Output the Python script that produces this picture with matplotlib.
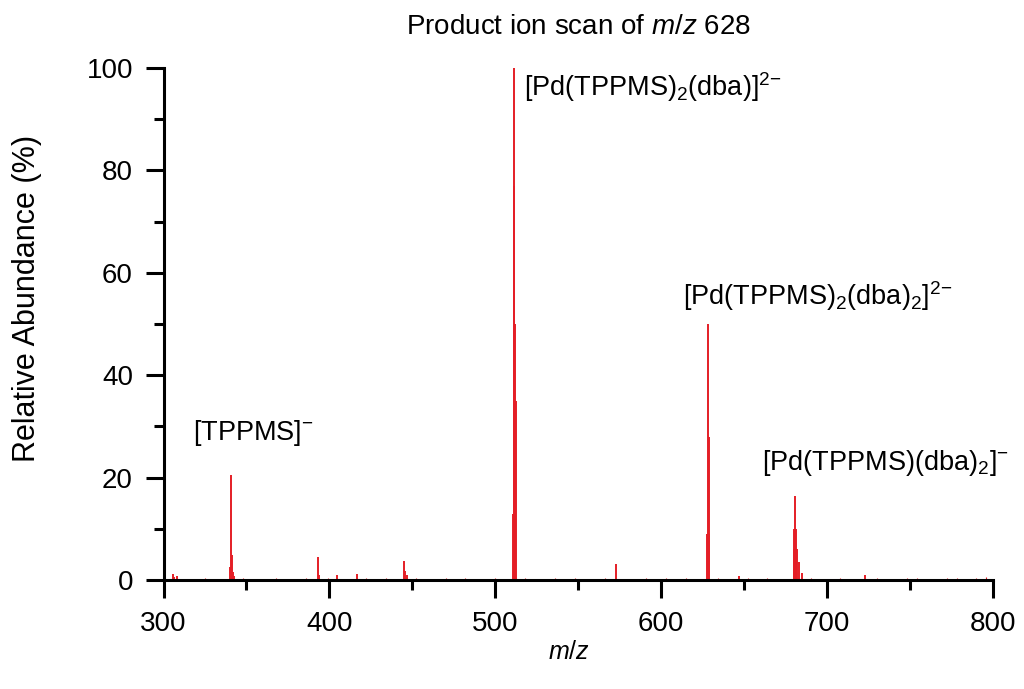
import matplotlib
matplotlib.use("Agg")
import matplotlib.pyplot as plt
from matplotlib.ticker import MultipleLocator

plt.rcParams['font.family'] = ['Liberation Sans', 'DejaVu Sans']
plt.rcParams['mathtext.fontset'] = 'custom'
plt.rcParams['mathtext.rm'] = 'Liberation Sans'
plt.rcParams['mathtext.it'] = 'Liberation Sans:italic'

# main peaks (m/z, relative abundance %)
peak_mz = [305.7, 306.5, 308.0,
           340.2, 340.7, 341.2, 341.7, 342.2,
           393.0, 393.7, 404.5, 416.6,
           444.9, 445.8, 446.5,
           510.5, 511.0, 511.5, 512.0, 512.5,
           572.6, 627.5, 628.0, 628.5, 629.0,
           646.6, 679.8, 680.3, 680.8, 681.3, 681.8, 682.8, 685.0,
           722.6]
peak_int = [1.2, 0.6, 0.8,
            2.5, 20.5, 5.0, 1.5, 0.8,
            4.5, 1.0, 1.0, 1.2,
            3.8, 1.8, 1.0,
            13.0, 100.0, 77.0, 50.0, 35.0,
            3.1, 9.0, 50.0, 28.0, 9.0,
            0.8, 6.0, 10.0, 16.5, 10.0, 6.0, 3.6, 1.4,
            1.1]

# baseline noise peaks
noise_mz = [312, 318, 325, 331, 336, 348, 355, 362, 368, 374, 380, 386, 399,
            410, 422, 428, 434, 439, 452, 458, 464, 470, 476, 482, 488, 494,
            500, 518, 524, 530, 536, 542, 548, 554, 560, 566, 579, 585, 591,
            597, 603, 609, 615, 621, 634, 640, 652, 658, 664, 670, 690, 696,
            702, 708, 714, 730, 736, 742, 748, 754, 760, 766, 772, 778, 784,
            790, 796]
noise_int = [0.3, 0.2, 0.4, 0.3, 0.2, 0.5, 0.3, 0.2, 0.4, 0.3, 0.2, 0.4, 0.5,
             0.3, 0.4, 0.2, 0.5, 0.3, 0.4, 0.2, 0.3, 0.5, 0.2, 0.4, 0.3, 0.2,
             0.4, 0.5, 0.3, 0.2, 0.4, 0.3, 0.5, 0.2, 0.3, 0.4, 0.3, 0.2, 0.4,
             0.3, 0.5, 0.2, 0.4, 0.3, 0.5, 0.3, 0.4, 0.2, 0.5, 0.3, 0.4, 0.3,
             0.2, 0.5, 0.3, 0.4, 0.2, 0.3, 0.5, 0.4, 0.3, 0.2, 0.4, 0.5, 0.3,
             0.4, 0.6]

labels = [r'[TPPMS]$^{-}$',
          r'[Pd(TPPMS)$_2$(dba)]$^{2{-}}$',
          r'[Pd(TPPMS)$_2$(dba)$_2$]$^{2{-}}$',
          r'[Pd(TPPMS)(dba)$_2$]$^{-}$']
label_x = [318, 517, 613, 660.5]
label_y = [27.3, 94.5, 53.7, 21.5]

red = '#e41e26'

fig = plt.figure(figsize=(10.24, 6.89), dpi=100)
ax = fig.add_axes([0.1597, 0.158, 0.8101, 0.7433])

ax.vlines(noise_mz, 0, noise_int, color=red, lw=0.8)
ax.vlines(peak_mz, 0, peak_int, color=red, lw=1.4)

for t, x, y in zip(labels, label_x, label_y):
    ax.text(x, y, t, fontsize=19.5, ha='left', va='baseline')

ax.set_xlim(300, 800)
ax.set_ylim(0, 100)
ax.xaxis.set_major_locator(MultipleLocator(100))
ax.xaxis.set_minor_locator(MultipleLocator(50))
ax.yaxis.set_major_locator(MultipleLocator(20))
ax.yaxis.set_minor_locator(MultipleLocator(10))

for s in ['top', 'right']:
    ax.spines[s].set_visible(False)
for s in ['bottom', 'left']:
    ax.spines[s].set_linewidth(2.2)

ax.tick_params(which='major', direction='out', length=13, width=2.2,
               labelsize=20, pad=9)
ax.tick_params(which='minor', direction='out', length=7, width=2.2)

# axis titles placed in figure coords
fig.text(569 / 1024, 1 - 652 / 689, r'$m/z$', fontsize=18,
         ha='center', va='center')
fig.text(27 / 1024, 1 - 298 / 689, 'Relative Abundance (%)', fontsize=22,
         rotation=90, ha='center', va='center')
fig.text(578 / 1024, 1 - 27 / 689, r'Product ion scan of $m/z$ 628',
         fontsize=20, ha='center', va='center')

plt.savefig("out.png", dpi=100)
